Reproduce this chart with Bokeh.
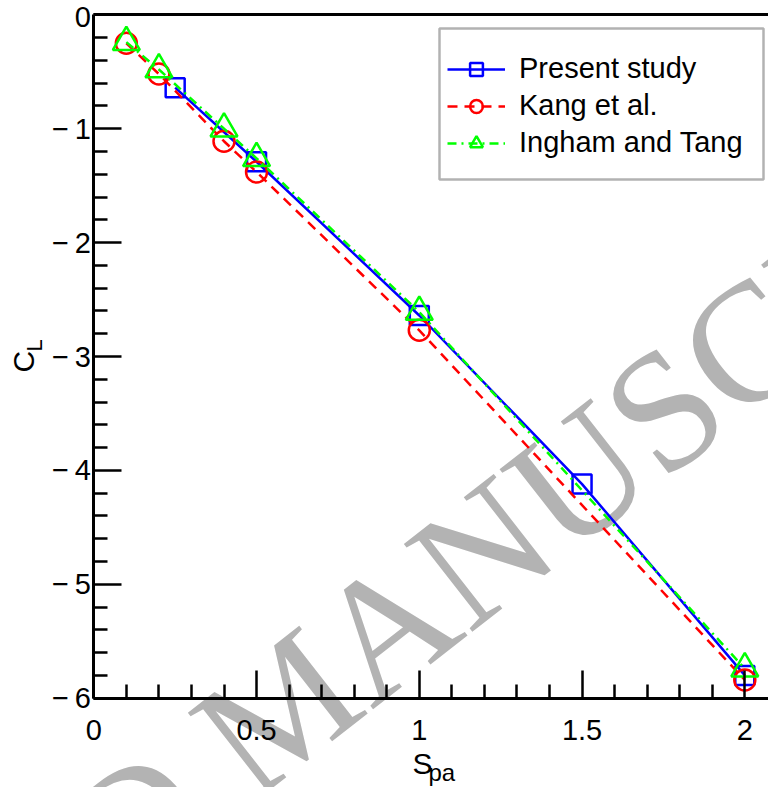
import math
from bokeh.plotting import figure
from bokeh.models import (Range1d, FixedTicker, LinearAxis, Legend, LegendItem, Label,
                          BoxAnnotation)
from bokeh.embed import file_html
from bokeh.resources import INLINE

# ---------------- data ----------------
present_x = [0.25, 0.5, 1.0, 1.5, 2.0]
present_y = [-0.64, -1.29, -2.64, -4.12, -5.80]

kang_x = [0.1, 0.2, 0.4, 0.5, 1.0, 2.0]
kang_y = [-0.25, -0.52, -1.11, -1.38, -2.77, -5.84]

ingham_x = [0.1, 0.2, 0.4, 0.5, 1.0, 2.0]
ingham_y = [-0.24, -0.48, -1.00, -1.26, -2.61, -5.74]

series_labels = ["Present study", "Kang et al.", "Ingham and Tang"]

x_major = [0, 0.5, 1, 1.5, 2]
x_major_labels = ["0", "0.5", "1", "1.5", "2"]
x_minor = [0.1, 0.2, 0.3, 0.4, 0.6, 0.7, 0.8, 0.9, 1.1, 1.2, 1.3, 1.4,
           1.6, 1.7, 1.8, 1.9]
y_major = [-6, -5, -4, -3, -2, -1, 0]
y_major_labels = ["\u2212\u20096", "\u2212\u20095", "\u2212\u20094", "\u2212\u20093",
                  "\u2212\u20092", "\u2212\u20091", "0"]
y_minor = [-5.8, -5.6, -5.4, -5.2, -4.8, -4.6, -4.4, -4.2, -3.8, -3.6, -3.4, -3.2,
           -2.8, -2.6, -2.4, -2.2, -1.8, -1.6, -1.4, -1.2, -0.8, -0.6, -0.4, -0.2]

FONT = "Liberation Sans"
FS = "29px"

W, H = 768, 787
# pixel geometry of the plotting box inside the canvas
X0_PX, X_SCALE = 93.3, 325.5      # px of x=0, px per unit
Y0_PX, Y_SCALE = 14.3, 113.9      # px (from top) of y=0, px per unit

x_range = Range1d(-X0_PX / X_SCALE, (W - X0_PX) / X_SCALE)
y_range = Range1d(-(H - Y0_PX) / Y_SCALE, Y0_PX / Y_SCALE)

p = figure(width=W, height=H, output_backend="svg", toolbar_location=None,
           x_range=x_range, y_range=y_range, min_border=0,
           x_axis_location=None, y_axis_location=None)
p.outline_line_color = None
p.grid.visible = False
p.background_fill_color = "white"
p.border_fill_color = "white"


def style_axis(ax, maj, mino, labs, standoff):
    ax.ticker = FixedTicker(ticks=maj, minor_ticks=mino)
    ax.major_label_overrides = {v: s for v, s in zip(maj, labs)}
    ax.major_tick_in = 28
    ax.major_tick_out = 0
    ax.minor_tick_in = 14
    ax.minor_tick_out = 0
    ax.axis_line_width = 3
    ax.major_tick_line_width = 2.5
    ax.minor_tick_line_width = 2.5
    ax.axis_line_color = "black"
    ax.major_tick_line_color = "black"
    ax.minor_tick_line_color = "black"
    ax.major_label_text_font = FONT
    ax.major_label_text_font_size = FS
    ax.major_label_text_color = "black"
    ax.major_label_standoff = standoff


xax = LinearAxis(fixed_location=-6, bounds=(0, 2.2))
style_axis(xax, x_major, x_minor, x_major_labels, 22)
p.add_layout(xax, "below")

yax = LinearAxis(fixed_location=0, bounds=(-6, 0))
style_axis(yax, y_major, y_minor, y_major_labels, 3)
p.add_layout(yax, "left")

topax = LinearAxis(fixed_location=0, bounds=(0, 2.2))
topax.ticker = FixedTicker(ticks=[], minor_ticks=[])
topax.axis_line_width = 3
topax.axis_line_color = "black"
topax.major_tick_line_color = None
topax.minor_tick_line_color = None
p.add_layout(topax, "above")

# watermark (screen units, from bottom-left of canvas)
ang = 38.0
F = 170
wm_x, wm_y = 217, 29
wm1 = Label(x=wm_x, y=wm_y, x_units="screen", y_units="screen", text="MANUSCRIPT",
            angle=ang, angle_units="deg", text_align="left", text_baseline="alphabetic",
            text_font="Liberation Serif", text_font_size=f"{F}px", text_color="#b3b3b3",
            level="underlay")
dx = 0.25 * F * math.cos(math.radians(ang))
dy = 0.25 * F * math.sin(math.radians(ang))
wm2 = Label(x=wm_x - dx, y=wm_y - dy, x_units="screen", y_units="screen", text="ACCEPTED",
            angle=ang, angle_units="deg", text_align="right", text_baseline="alphabetic",
            text_font="Liberation Serif", text_font_size=f"{F}px", text_color="#b3b3b3",
            level="underlay")
p.add_layout(wm2)
p.add_layout(wm1)

# series
l1 = p.line(present_x, present_y, line_color="#0000ff", line_width=2.5)
s1 = p.scatter(present_x, present_y, marker="square", size=19, fill_color=None,
               line_color="#0000ff", line_width=2.5)
l2 = p.line(kang_x, kang_y, line_color="#ff0000", line_width=2.5, line_dash="10 7")
s2 = p.scatter(kang_x, kang_y, marker="circle", size=21, fill_color=None,
               line_color="#ff0000", line_width=2.5)
l3 = p.line(ingham_x, ingham_y, line_color="#00ff00", line_width=2.5, line_dash="9 5 2 5")
s3 = p.scatter(ingham_x, ingham_y, marker="triangle", size=27, fill_color=None,
               line_color="#00ff00", line_width=2.5)

# legend frame + legend
box = BoxAnnotation(left=439, right=763, top=H - 28, bottom=H - 179,
                    left_units="screen", right_units="screen",
                    top_units="screen", bottom_units="screen",
                    fill_color="white", fill_alpha=1.0,
                    line_color="black", line_width=2.5)
p.add_layout(box)

legend = Legend(items=[LegendItem(label=series_labels[0], renderers=[l1, s1]),
                       LegendItem(label=series_labels[1], renderers=[l2, s2]),
                       LegendItem(label=series_labels[2], renderers=[l3, s3])],
                location=(447, H - 161), margin=0, padding=0, spacing=0,
                label_height=37, glyph_height=32, glyph_width=58, label_standoff=14,
                border_line_color=None, background_fill_alpha=0.0,
                label_text_font=FONT, label_text_font_size=FS,
                label_text_color="black")
p.add_layout(legend)

# axis titles with subscripts (screen units, from bottom-left of canvas)
p.add_layout(Label(x=23, y=H - 372, x_units="screen", y_units="screen", text="C",
                   angle=90, angle_units="deg", text_align="left", text_baseline="alphabetic",
                   text_font=FONT, text_font_size="30px", text_color="black"))
p.add_layout(Label(x=34, y=H - 351, x_units="screen", y_units="screen", text="L",
                   angle=90, angle_units="deg", text_align="left", text_baseline="alphabetic",
                   text_font=FONT, text_font_size="22px", text_color="black"))
p.add_layout(Label(x=412, y=H - 763, x_units="screen", y_units="screen", text="S",
                   text_align="left", text_baseline="alphabetic",
                   text_font=FONT, text_font_size="30px", text_color="black"))
p.add_layout(Label(x=428, y=H - 772, x_units="screen", y_units="screen", text="pa",
                   text_align="left", text_baseline="alphabetic",
                   text_font=FONT, text_font_size="24px", text_color="black"))

open("out.html", "w").write(file_html(p, INLINE))
